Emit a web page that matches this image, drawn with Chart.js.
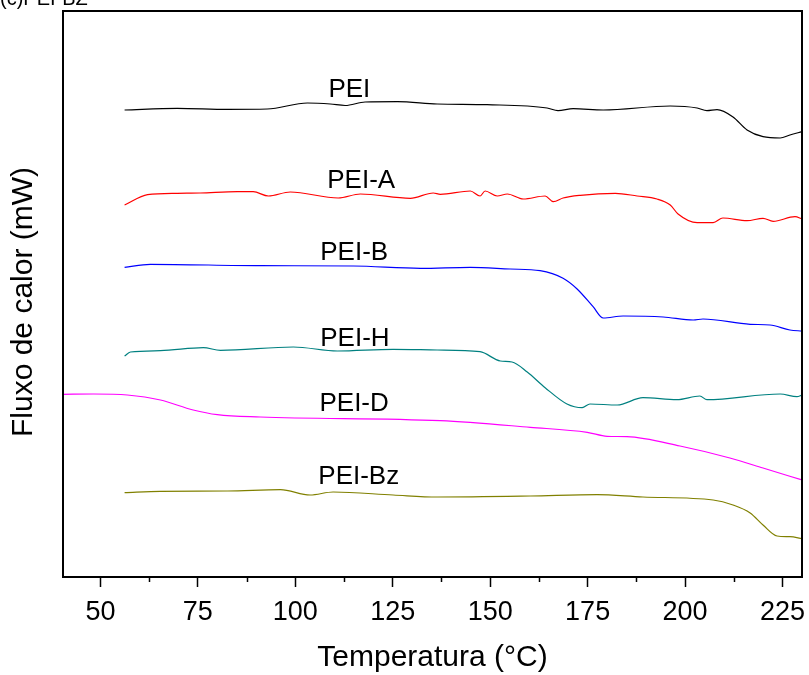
<!DOCTYPE html>
<html>
<head>
<meta charset="utf-8">
<script src="https://cdn.jsdelivr.net/npm/chart.js@4.4.1/dist/chart.umd.min.js"></script>
<style>
  body { margin: 0; background: #fff; }
  canvas { display: block; }
</style>
</head>
<body>
<canvas id="myChart" width="809" height="675"></canvas>
<script>
// temperatures (°C) and heat flow (arbitrary offset, mW)
const peiT = [56.2, 69.7, 82.6, 92.8, 103.1, 109.0, 112.8, 117.9, 126.2, 136.4, 149.2, 164.6, 167.4, 171.3, 179.0, 196.2, 203.1, 205.6, 208.2, 212.3, 215.9, 220.0, 224.4, 226.9, 230];
const peiY = [467, 468.7, 467.7, 468, 474, 473, 471.5, 475, 475.3, 473, 472.3, 469, 466.3, 468.3, 467, 471, 469, 466.3, 467.3, 460, 447, 440.3, 439, 442, 445.3];

const peiAT = [56.2, 62.1, 69.7, 75.6, 85.1, 89.2, 93.1, 98.7, 111.0, 116.7, 129.5, 135.4, 137.2, 144.9, 147.4, 148.7, 151.8, 154.4, 158.5, 164.1, 166.2, 168.7, 173.1, 182.1, 187.7, 192.8, 196.2, 198.2, 203.1, 207.2, 209.7, 215.9, 220.0, 222.6, 228.2, 230];
const peiAY = [372, 382.3, 383.7, 384, 385.3, 385.3, 381, 385, 379, 383, 378.7, 384, 382.7, 386, 381, 386, 381, 383, 378, 381, 375.3, 379, 381.7, 383.7, 381, 378, 372, 363, 354.3, 354.3, 359, 356.3, 358.7, 355.7, 360.3, 358];

const peiBT = [56.2, 62.8, 91.0, 114.9, 132.1, 144.9, 155.1, 162.8, 168.7, 172.3, 176.4, 179.0, 184.1, 194.4, 202.1, 204.6, 216.7, 221.8, 226.9, 230];
const peiBY = [309.7, 312.7, 311.3, 311, 308.7, 309.7, 308, 306.3, 298.7, 288, 270.3, 259, 261, 260, 257, 258, 252.7, 252, 247, 246];

const peiHT = [56.2, 57.7, 65.4, 76.4, 80.8, 99.5, 110.8, 125.1, 136.4, 147.4, 152.6, 155.6, 159.5, 164.1, 169.7, 173.6, 175.6, 182.6, 189.2, 197.9, 203.8, 205.6, 224.4, 228.7, 230];
const peiHY = [221, 225, 226.3, 229.3, 226.7, 230, 226, 227.7, 227, 225.3, 216, 215, 205, 189.3, 173, 169.3, 173, 172, 179.3, 177.3, 181, 177.3, 183, 180.3, 182];

const peiDT = [40.4, 48.2, 56.9, 65.4, 73.8, 80.0, 91.0, 137.2, 160.3, 174.9, 180.0, 185.1, 198.7, 211.5, 220.0, 230];
const peiDY = [182.7, 183, 182, 177, 167, 162.3, 160, 156.3, 149.7, 144.7, 140.7, 140.3, 131, 119, 109, 97];

const peiBzT = [56.2, 65.4, 82.6, 96.2, 103.8, 109.7, 125.1, 136.4, 160.3, 177.4, 189.2, 207.2, 212.3, 216.7, 220.0, 223.6, 226.9, 230];
const peiBzY = [84.3, 85.7, 86, 87.3, 82, 85, 82, 80, 81, 82.3, 80, 77, 72, 64, 52, 41, 40.3, 38.3];

const names = ['PEI', 'PEI-A', 'PEI-B', 'PEI-H', 'PEI-D', 'PEI-Bz'];
const colors = ['#000000', '#ff0000', '#0000ff', '#008080', '#ff00ff', '#808000'];
// label anchor (left edge, baseline) in data units
const labelT = [108.5, 108.2, 106.4, 106.4, 106.2, 105.9];
const labelY = [480, 389, 317, 231, 166, 93];

const xTicks = [50, 75, 100, 125, 150, 175, 200, 225];

function pts(t, y) {
  return t.map((v, i) => ({ x: v, y: y[i] }));
}

const series = [
  pts(peiT, peiY),
  pts(peiAT, peiAY),
  pts(peiBT, peiBY),
  pts(peiHT, peiHY),
  pts(peiDT, peiDY),
  pts(peiBzT, peiBzY),
];

const font = '"Liberation Sans", Arial, sans-serif';

function minorTick(ctx, xs, a, v) {
  const px = Math.round(xs.getPixelForValue(v)) + 0.5;
  ctx.beginPath();
  ctx.moveTo(px, a.bottom);
  ctx.lineTo(px, a.bottom + 5);
  ctx.stroke();
}

const extras = {
  id: 'extras',
  afterDraw(chart) {
    const ctx = chart.ctx;
    const a = chart.chartArea;
    const xs = chart.scales.x;
    const ys = chart.scales.y;
    ctx.save();

    // frame
    ctx.strokeStyle = '#000';
    ctx.lineWidth = 2;
    ctx.strokeRect(a.left, a.top, a.right - a.left, a.bottom - a.top);

    // minor ticks between majors
    ctx.lineWidth = 1.5;
    if (xTicks[0] - 12.5 >= xs.min) minorTick(ctx, xs, a, xTicks[0] - 12.5);
    xTicks.forEach(t => {
      if (t + 12.5 <= xs.max) minorTick(ctx, xs, a, t + 12.5);
    });

    // curve labels
    ctx.fillStyle = '#000';
    ctx.font = '26px ' + font;
    ctx.textAlign = 'left';
    ctx.textBaseline = 'alphabetic';
    names.forEach((n, i) => {
      ctx.fillText(n, xs.getPixelForValue(labelT[i]), ys.getPixelForValue(labelY[i]));
    });

    // axis titles
    ctx.font = '30px ' + font;
    ctx.textAlign = 'center';
    ctx.fillText('Temperatura (°C)', (a.left + a.right) / 2, 666);
    ctx.save();
    ctx.translate(32, 302);
    ctx.rotate(-Math.PI / 2);
    ctx.fillText('Fluxo de calor (mW)', 0, 0);
    ctx.restore();

    // panel caption, cut at the top edge
    ctx.font = '20px ' + font;
    ctx.textAlign = 'left';
    ctx.fillText('(c)PEI-BZ', 0, 5);

    ctx.restore();
  }
};

const ctx = document.getElementById('myChart').getContext('2d');
const myChart = new Chart(ctx, {
  type: 'line',
  data: {
    datasets: series.map((d, i) => ({
      label: names[i],
      data: d,
      borderColor: colors[i],
      backgroundColor: colors[i],
      borderWidth: 1.2,
      pointRadius: 0,
      cubicInterpolationMode: 'monotone',
      fill: false
    }))
  },
  options: {
    responsive: false,
    animation: false,
    layout: { padding: { left: 0, right: 7, top: 11, bottom: 0 } },
    plugins: {
      legend: { display: false },
      tooltip: { enabled: false }
    },
    scales: {
      x: {
        type: 'linear',
        min: 40.4,
        max: 230,
        afterFit: (scale) => {
          scale.height = 98;
          scale.paddingLeft = 0;
          scale.paddingRight = 0;
        },
        border: { display: false },
        grid: {
          drawOnChartArea: false,
          tickLength: 10,
          tickColor: '#000',
          tickWidth: 1.5
        },
        ticks: {
          stepSize: 25,
          includeBounds: false,
          color: '#000',
          padding: 9,
          maxRotation: 0,
          font: { family: font, size: 27 }
        }
      },
      y: {
        type: 'linear',
        min: 0,
        max: 566,
        afterFit: (scale) => { scale.width = 63; },
        border: { display: false },
        grid: { display: false },
        ticks: { display: false }
      }
    }
  },
  plugins: [extras]
});
</script>
</body>
</html>
